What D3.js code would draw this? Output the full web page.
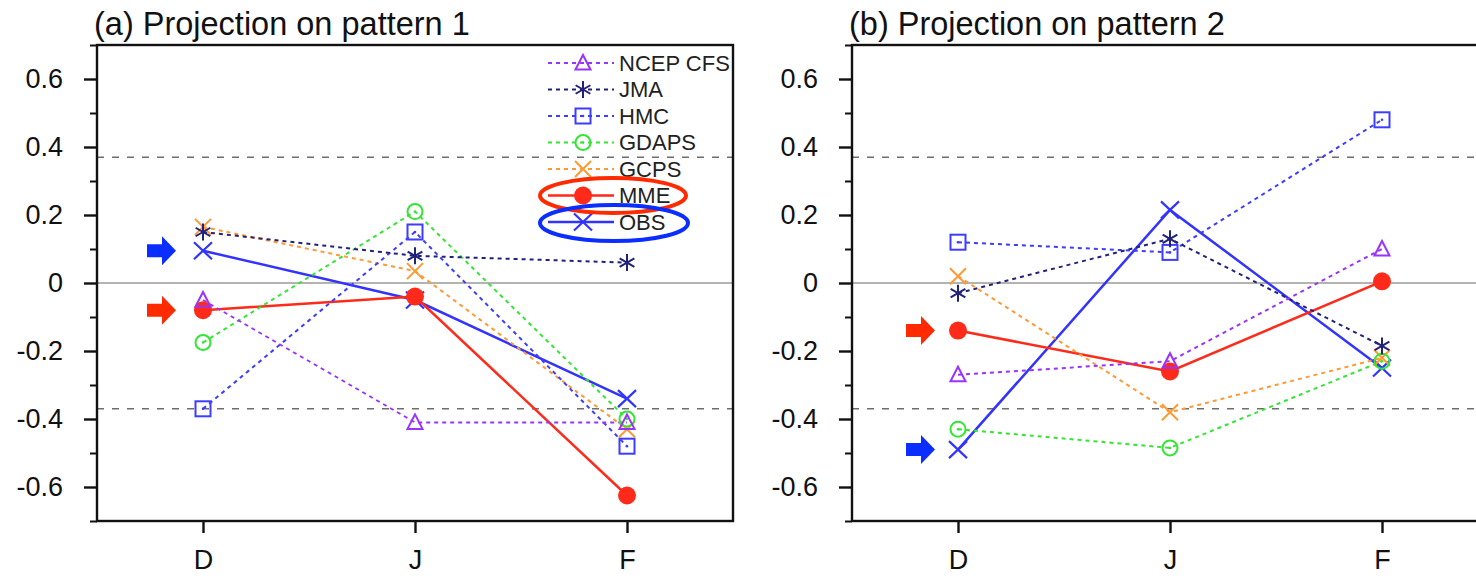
<!DOCTYPE html>
<html>
<head>
<meta charset="utf-8">
<script src="https://cdn.jsdelivr.net/npm/d3@7"></script>
<style>
  html, body { margin: 0; padding: 0; background: #fff; }
  svg { display: block; font-family: "Liberation Sans", Arial, Helvetica, sans-serif; }
</style>
</head>
<body>
<svg id="chart" width="1476" height="580"></svg>
<script>
// Months on the x axis
const months = ["D", "J", "F"];

// Series names, in legend order
const seriesNames = ["NCEP CFS", "JMA", "HMC", "GDAPS", "GCPS", "MME", "OBS"];

// Projection on pattern 1 (D, J, F)
const p1NCEP  = [-0.05, -0.41, -0.41];
const p1JMA   = [0.15, 0.08, 0.06];
const p1HMC   = [-0.37, 0.15, -0.48];
const p1GDAPS = [-0.175, 0.21, -0.40];
const p1GCPS  = [0.165, 0.035, -0.43];
const p1MME   = [-0.08, -0.04, -0.625];
const p1OBS   = [0.095, -0.05, -0.34];

// Projection on pattern 2 (D, J, F)
const p2NCEP  = [-0.27, -0.23, 0.10];
const p2JMA   = [-0.03, 0.13, -0.185];
const p2HMC   = [0.12, 0.09, 0.48];
const p2GDAPS = [-0.43, -0.485, -0.23];
const p2GCPS  = [0.02, -0.38, -0.22];
const p2MME   = [-0.14, -0.26, 0.005];
const p2OBS   = [-0.49, 0.215, -0.25];

// Y tick values and significance threshold
const yMajorTicks = [-0.6, -0.4, -0.2, 0, 0.2, 0.4, 0.6];
const yMinorTicks = [-0.7, -0.5, -0.3, -0.1, 0.1, 0.3, 0.5, 0.7];
const threshold = 0.37;

const panels = [
  { title: "(a) Projection on pattern 1", left: 97, right: 733, legend: true,
    values: [p1NCEP, p1JMA, p1HMC, p1GDAPS, p1GCPS, p1MME, p1OBS] },
  { title: "(b) Projection on pattern 2", left: 852, right: 1488, legend: false,
    values: [p2NCEP, p2JMA, p2HMC, p2GDAPS, p2GCPS, p2MME, p2OBS] }
];

// Per-series style
const styles = {
  "NCEP CFS": { color: "#9933ff", marker: "triangle", dash: "4,4", width: 2 },
  "JMA":      { color: "#22227a", marker: "asterisk", dash: "4,4", width: 2 },
  "HMC":      { color: "#3d3dff", marker: "square",   dash: "4,4", width: 2 },
  "GDAPS":    { color: "#33e633", marker: "circle",   dash: "4,4", width: 2 },
  "GCPS":     { color: "#ff9933", marker: "cross",    dash: "4,4", width: 2 },
  "MME":      { color: "#ff2a1a", marker: "dot",      dash: null,  width: 2.5 },
  "OBS":      { color: "#3333ff", marker: "bigcross", dash: null,  width: 2.5 }
};

const svg = d3.select("#chart");
const plotTop = 45, plotBottom = 521;
const y = d3.scaleLinear().domain([-0.7, 0.7]).range([plotBottom, plotTop]);

function drawMarker(g, name, cx, cy) {
  const s = styles[name];
  const c = s.color;
  const m = g.append("g").attr("transform", `translate(${cx},${cy})`);
  switch (s.marker) {
    case "triangle":
      m.append("path").attr("d", "M0,-8L7.5,6.5L-7.5,6.5Z")
        .attr("fill", "none").attr("stroke", c).attr("stroke-width", 2);
      break;
    case "asterisk": {
      const r = 8.5;
      [90, 30, 150].forEach(a => {
        const rad = a * Math.PI / 180;
        m.append("line")
          .attr("x1", -r * Math.cos(rad)).attr("y1", -r * Math.sin(rad))
          .attr("x2", r * Math.cos(rad)).attr("y2", r * Math.sin(rad))
          .attr("stroke", c).attr("stroke-width", 2);
      });
      break;
    }
    case "square":
      m.append("rect").attr("x", -7.5).attr("y", -7.5).attr("width", 15).attr("height", 15)
        .attr("fill", "none").attr("stroke", c).attr("stroke-width", 2);
      m.append("circle").attr("r", 1.3).attr("fill", c);
      break;
    case "circle":
      m.append("circle").attr("r", 7.5)
        .attr("fill", "none").attr("stroke", c).attr("stroke-width", 2);
      m.append("circle").attr("r", 1.2).attr("fill", c);
      break;
    case "cross":
      m.append("path").attr("d", "M-8,-8L8,8M-8,8L8,-8")
        .attr("stroke", c).attr("stroke-width", 2).attr("fill", "none");
      break;
    case "bigcross":
      m.append("path").attr("d", "M-9,-8.5L9,8.5M-9,8.5L9,-8.5")
        .attr("stroke", c).attr("stroke-width", 2.2).attr("fill", "none");
      break;
    case "dot":
      m.append("circle").attr("r", 9).attr("fill", c);
      break;
  }
}

function arrow(g, tipX, cy, color) {
  const p = `M${tipX - 29},${cy - 6.5}L${tipX - 14},${cy - 6.5}L${tipX - 14},${cy - 14.5}` +
            `L${tipX},${cy}L${tipX - 14},${cy + 14.5}L${tipX - 14},${cy + 6.5}L${tipX - 29},${cy + 6.5}Z`;
  g.append("path").attr("d", p).attr("fill", color);
}

panels.forEach(panel => {
  const x = d3.scalePoint().domain(months).range([panel.left, panel.right]).padding(0.5);
  const g = svg.append("g");

  // reference lines
  g.append("line").attr("x1", panel.left).attr("x2", panel.right)
    .attr("y1", y(0)).attr("y2", y(0))
    .attr("stroke", "#9a9a9a").attr("stroke-width", 1.6);
  [threshold, -threshold].forEach(v => {
    g.append("line").attr("x1", panel.left).attr("x2", panel.right)
      .attr("y1", y(v)).attr("y2", y(v))
      .attr("stroke", "#6e6e6e").attr("stroke-width", 1.5).attr("stroke-dasharray", "7,8");
  });

  // series lines (drawn in reverse so the models sit above MME/OBS)
  const order = d3.range(seriesNames.length).reverse();
  const line = d3.line().x((d, i) => x(months[i])).y(d => y(d));
  order.forEach(k => {
    const name = seriesNames[k];
    const s = styles[name];
    g.append("path").datum(panel.values[k]).attr("d", line)
      .attr("fill", "none").attr("stroke", s.color).attr("stroke-width", s.width)
      .attr("stroke-dasharray", s.dash);
  });
  order.forEach(k => {
    const name = seriesNames[k];
    panel.values[k].forEach((v, i) => drawMarker(g, name, x(months[i]), y(v)));
  });

  // arrows highlighting MME and OBS at D
  const mmeIdx = seriesNames.indexOf("MME"), obsIdx = seriesNames.indexOf("OBS");
  const tipX = x("D") - (panel.legend ? 27 : 23);
  arrow(g, tipX, y(panel.values[mmeIdx][0]), "#ff2a00");
  arrow(g, tipX, y(panel.values[obsIdx][0]), "#0a2eff");

  // frame
  g.append("rect").attr("x", panel.left).attr("y", plotTop)
    .attr("width", panel.right - panel.left).attr("height", plotBottom - plotTop)
    .attr("fill", "none").attr("stroke", "#111").attr("stroke-width", 2.4);

  // y axis
  const yAxis = d3.axisLeft(y).tickValues(yMajorTicks).tickSize(13).tickSizeOuter(0).tickPadding(21)
    .tickFormat(d => d === 0 ? "0" : d.toFixed(1));
  const ya = g.append("g").attr("transform", `translate(${panel.left},0)`).call(yAxis);
  ya.select(".domain").remove();
  ya.selectAll(".tick line").attr("stroke", "#111").attr("stroke-width", 2.4);
  ya.selectAll(".tick text").attr("font-size", 27).attr("fill", "#111")
    .attr("font-family", "'Liberation Sans', Arial, sans-serif");
  const yMinor = d3.axisLeft(y).tickValues(yMinorTicks).tickSize(7).tickFormat("");
  const ym = g.append("g").attr("transform", `translate(${panel.left},0)`).call(yMinor);
  ym.select(".domain").remove();
  ym.selectAll(".tick line").attr("stroke", "#111").attr("stroke-width", 2);

  // x axis
  const xAxis = d3.axisBottom(x).tickSize(12).tickSizeOuter(0).tickPadding(17);
  const xa = g.append("g").attr("transform", `translate(0,${plotBottom})`).call(xAxis);
  xa.select(".domain").remove();
  xa.selectAll(".tick line").attr("stroke", "#111").attr("stroke-width", 2.4);
  xa.selectAll(".tick text").attr("font-size", 27).attr("fill", "#111")
    .attr("font-family", "'Liberation Sans', Arial, sans-serif");

  // title
  g.append("text").attr("x", panel.left - 3).attr("y", 35)
    .attr("font-size", 32.5).attr("fill", "#111").text(panel.title);

  // legend
  if (panel.legend) {
    const lg = g.append("g");
    const ly0 = 63, dy = 26.5, lx0 = 548, lx1 = 614, mx = 583, tx = 619;
    seriesNames.forEach((name, i) => {
      const s = styles[name];
      const ly = ly0 + i * dy;
      lg.append("line").attr("x1", lx0).attr("x2", lx1).attr("y1", ly).attr("y2", ly)
        .attr("stroke", s.color).attr("stroke-width", s.width).attr("stroke-dasharray", s.dash);
      drawMarker(lg, name, mx, ly);
      lg.append("text").attr("x", tx).attr("y", ly).attr("dy", "0.35em")
        .attr("font-size", 22).attr("fill", "#222").text(name);
    });
    // emphasis rings around MME and OBS entries
    lg.append("ellipse").attr("cx", 613).attr("cy", ly0 + 5 * dy).attr("rx", 73).attr("ry", 17.5)
      .attr("fill", "none").attr("stroke", "#ff2a00").attr("stroke-width", 4);
    lg.append("ellipse").attr("cx", 614).attr("cy", ly0 + 6 * dy + 1).attr("rx", 74).attr("ry", 18)
      .attr("fill", "none").attr("stroke", "#0a2eff").attr("stroke-width", 4);
  }
});
</script>
</body>
</html>
